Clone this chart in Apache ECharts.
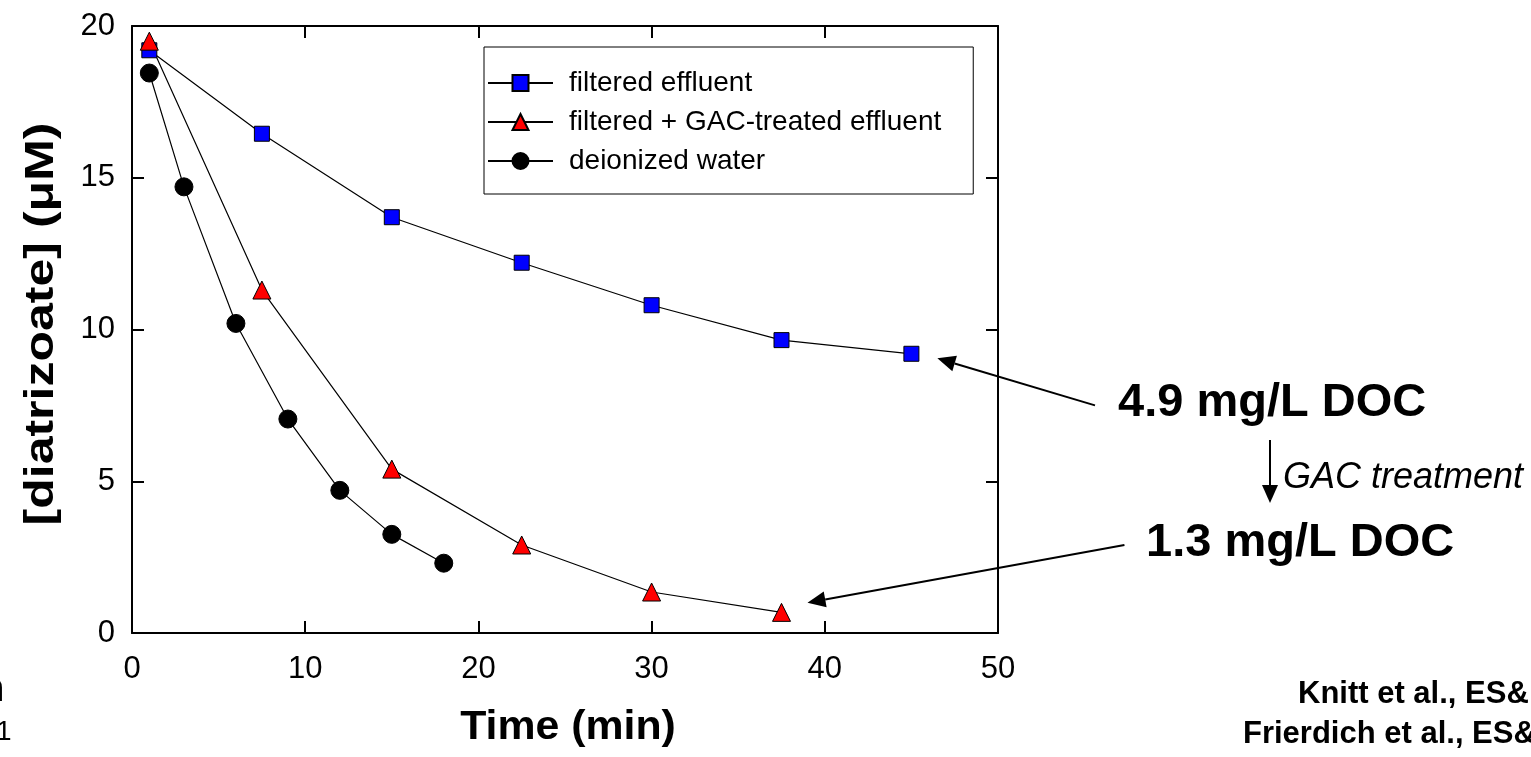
<!DOCTYPE html>
<html>
<head>
<meta charset="utf-8">
<script src="https://cdn.jsdelivr.net/npm/echarts@6/dist/echarts.min.js"></script>
<style>
html, body { margin: 0; padding: 0; background: #fff; }
#chartmain { width: 1531px; height: 757px; }
</style>
</head>
<body>
<div id="chartmain"></div>
<script>
// data
var seriesNames = ['filtered effluent', 'filtered + GAC-treated effluent', 'deionized water'];
var timeFiltered = [1, 7.5, 15, 22.5, 30, 37.5, 45];
var concFiltered = [19.2, 16.45, 13.7, 12.2, 10.8, 9.65, 9.2];
var timeGac = [1, 7.5, 15, 22.5, 30, 37.5];
var concGac = [19.5, 11.3, 5.4, 2.9, 1.35, 0.68];
var timeDi = [1, 3, 6, 9, 12, 15, 18];
var concDi = [18.45, 14.7, 10.2, 7.05, 4.7, 3.25, 2.3];
var xTicks = [0, 10, 20, 30, 40, 50];
var yTicks = [0, 5, 10, 15, 20];

var font = "'Liberation Sans', Arial, sans-serif";

function pairs(xs, ys) {
    var out = [];
    for (var i = 0; i < xs.length; i++) out.push([xs[i], ys[i]]);
    return out;
}

var tickStyle = { inside: true, length: 12, lineStyle: { color: '#000', width: 2 } };
var lineStyle = { onZero: false, lineStyle: { color: '#000', width: 2 } };

var option = {
    animation: false,
    backgroundColor: '#fff',
    grid: { left: 132, top: 26, width: 866, height: 607 },
    legend: {
        orient: 'vertical',
        left: 484,
        top: 47,
        padding: [22, 32, 19, 3],
        itemGap: 11,
        itemWidth: 65,
        itemHeight: 20,
        borderColor: '#000',
        borderWidth: 1,
        backgroundColor: '#fff',
        textStyle: { fontFamily: font, fontSize: 28, color: '#000', padding: [0, 0, 0, 11] },
        data: seriesNames
    },
    xAxis: [{
        type: 'value', min: xTicks[0], max: xTicks[xTicks.length - 1], interval: 10,
        position: 'bottom',
        axisLine: lineStyle, axisTick: tickStyle, splitLine: { show: false },
        axisLabel: { fontFamily: font, fontSize: 31, color: '#000', margin: 21 }
    }, {
        type: 'value', min: xTicks[0], max: xTicks[xTicks.length - 1], interval: 10,
        position: 'top',
        axisLine: lineStyle, axisTick: tickStyle, splitLine: { show: false },
        axisLabel: { show: false }
    }],
    yAxis: [{
        type: 'value', min: yTicks[0], max: yTicks[yTicks.length - 1], interval: 5,
        position: 'left',
        axisLine: lineStyle, axisTick: tickStyle, splitLine: { show: false },
        axisLabel: { fontFamily: font, fontSize: 31, color: '#000', margin: 17 }
    }, {
        type: 'value', min: yTicks[0], max: yTicks[yTicks.length - 1], interval: 5,
        position: 'right',
        axisLine: lineStyle, axisTick: tickStyle, splitLine: { show: false },
        axisLabel: { show: false }
    }],
    series: [{
        name: seriesNames[0],
        type: 'line',
        data: pairs(timeFiltered, concFiltered),
        symbol: 'rect', symbolSize: 15,
        lineStyle: { color: '#000', width: 1.2 },
        itemStyle: { color: '#0000ff', borderColor: '#000', borderWidth: 1 }
    }, {
        name: seriesNames[1],
        type: 'line',
        data: pairs(timeGac, concGac),
        symbol: 'triangle', symbolSize: 18,
        lineStyle: { color: '#000', width: 1.2 },
        itemStyle: { color: '#ff0000', borderColor: '#000', borderWidth: 1 }
    }, {
        name: seriesNames[2],
        type: 'line',
        data: pairs(timeDi, concDi),
        symbol: 'circle', symbolSize: 18,
        lineStyle: { color: '#000', width: 1.2 },
        itemStyle: { color: '#000', borderColor: '#000', borderWidth: 1 }
    }]
};

var myChart = echarts.init(document.getElementById('chartmain'));
myChart.setOption(option);

// arrows, given in data space (tail -> tip)
var arrows = [
    [[55.6, 7.5], [46.5, 9.05]],
    [[57.3, 2.9], [39.0, 1.0]]
];

function arrowShapes(p0, p1, headLen, headHalf) {
    var dx = p1[0] - p0[0], dy = p1[1] - p0[1];
    var len = Math.sqrt(dx * dx + dy * dy);
    var ux = dx / len, uy = dy / len;
    var bx = p1[0] - ux * headLen, by = p1[1] - uy * headLen;
    return [{
        type: 'line', silent: true,
        shape: { x1: p0[0], y1: p0[1], x2: bx, y2: by },
        style: { stroke: '#000', lineWidth: 2 }
    }, {
        type: 'polygon', silent: true,
        shape: { points: [p1, [bx - uy * headHalf, by + ux * headHalf], [bx + uy * headHalf, by - ux * headHalf]] },
        style: { fill: '#000' }
    }];
}

var graphics = [];
for (var i = 0; i < arrows.length; i++) {
    var a = myChart.convertToPixel({ xAxisIndex: 0, yAxisIndex: 0 }, arrows[i][0]);
    var b = myChart.convertToPixel({ xAxisIndex: 0, yAxisIndex: 0 }, arrows[i][1]);
    graphics = graphics.concat(arrowShapes(a, b, 18, 8));
}
// GAC treatment arrow
graphics = graphics.concat(arrowShapes([1270, 440], [1270, 503], 18, 8));

function txt(x, y, s, size, weight, style) {
    return {
        type: 'text', left: x, top: y, silent: true,
        style: {
            text: s, fill: '#000', fontFamily: font, fontSize: size,
            fontWeight: weight || 'normal', fontStyle: style || 'normal'
        }
    };
}
// axis titles (lettering in the source is a little stretched)
graphics.push({
    type: 'text', x: 568, y: 728, scaleX: 1.07, silent: true,
    style: { text: 'Time (min)', fill: '#000', fontFamily: font, fontSize: 40, fontWeight: 'bold',
        textAlign: 'center', textVerticalAlign: 'middle' }
});
graphics.push({
    type: 'text', x: 42, y: 324, rotation: Math.PI / 2, scaleX: 1.22, silent: true,
    style: { text: '[diatrizoate] (\u03bcM)', fill: '#000', fontFamily: font, fontSize: 41, fontWeight: 'bold',
        textAlign: 'center', textVerticalAlign: 'middle' }
});
graphics.push(txt(1118, 380, '4.9 mg/L DOC', 47, 'bold'));
graphics.push(txt(1146, 520, '1.3 mg/L DOC', 47, 'bold'));
graphics.push(txt(1283, 460, 'GAC treatment', 36, 'normal', 'italic'));
graphics.push(txt(1298, 679, 'Knitt et al., ES&', 31, 'bold'));
graphics.push(txt(1243, 719, 'Frierdich et al., ES&', 31, 'bold'));
graphics.push(txt(-20, 670, 'n', 40, 'bold'));
graphics.push(txt(-4, 718, '1', 28));

myChart.setOption({ graphic: graphics });
</script>
</body>
</html>
